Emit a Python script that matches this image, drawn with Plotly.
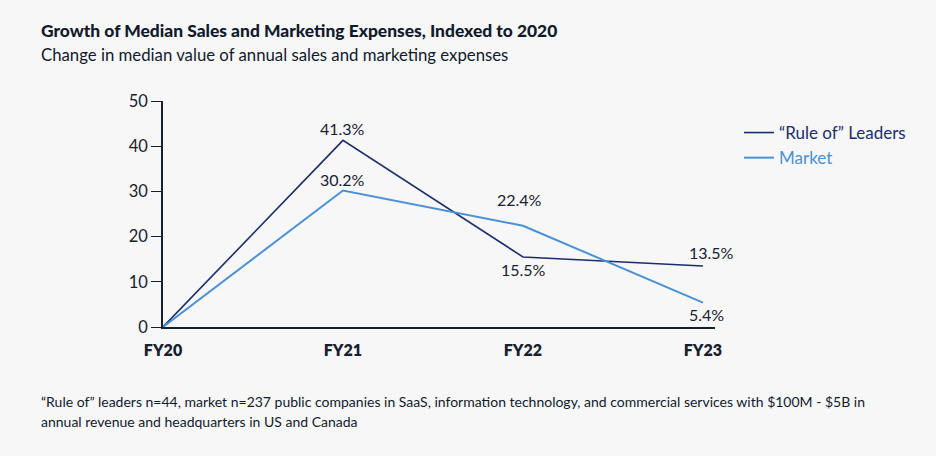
import plotly.graph_objects as go

categories = ["FY20", "FY21", "FY22", "FY23"]
leaders = [0, 41.3, 15.5, 13.5]
market = [0, 30.2, 22.4, 5.4]
leader_labels = [None, "41.3%", "15.5%", "13.5%"]
market_labels = [None, "30.2%", "22.4%", "5.4%"]
y_ticks = [0, 10, 20, 30, 40, 50]

NAVY = "#1b2d6b"
BLUE = "#4b91d3"
INK = "#18202f"
BG = "#f7f7f8"
FONT = "Lato, 'Open Sans', sans-serif"

W, H = 936, 456
L, R, T, B = 163, 221, 101, 129
pw, ph = W - L - R, H - T - B

def px_x(p):
    return (p - L) / pw

def px_y(p):
    return (H - B - p) / ph

xi = list(range(len(categories)))

fig = go.Figure()
fig.add_trace(go.Scatter(
    x=xi, y=leaders, mode="lines", line=dict(color=NAVY, width=1.6),
    name=f'<span style="color:{NAVY}">“Rule of” Leaders</span>'))
fig.add_trace(go.Scatter(
    x=xi, y=market, mode="lines", line=dict(color=BLUE, width=2),
    name=f'<span style="color:{BLUE}">Market</span>'))

# data labels (offsets in pixels)
leader_off = [None, (0, 12), (1, -13), (9, 13)]
market_off = [None, (0, 11), (-3, 26), (4, -12)]
ann = []
for i, (lab, off) in enumerate(zip(leader_labels, leader_off)):
    if lab:
        ann.append(dict(x=xi[i], y=leaders[i], xref="x", yref="y", text=lab, showarrow=False,
                        xshift=off[0], yshift=off[1], font=dict(size=16, color=INK, family=FONT)))
for i, (lab, off) in enumerate(zip(market_labels, market_off)):
    if lab:
        ann.append(dict(x=xi[i], y=market[i], xref="x", yref="y", text=lab, showarrow=False,
                        xshift=off[0], yshift=off[1], font=dict(size=16, color=INK, family=FONT)))

ann.append(dict(x=px_x(39), y=px_y(31), xref="paper", yref="paper", xanchor="left", yanchor="middle",
                text="Growth of Median Sales and Marketing Expenses, Indexed to 2020",
                showarrow=False, font=dict(size=17.4, color="#111a2b", family=FONT, weight=900)))
ann.append(dict(x=px_x(39), y=px_y(55), xref="paper", yref="paper", xanchor="left", yanchor="middle",
                text="Change in median value of annual sales and marketing expenses",
                showarrow=False, font=dict(size=16.75, color="#111a2b", family=FONT)))
ann.append(dict(x=px_x(39), y=px_y(401), xref="paper", yref="paper", xanchor="left", yanchor="middle",
                text="“Rule of” leaders n=44, market n=237 public companies in SaaS, information technology, and commercial services with $100M - $5B in",
                showarrow=False, font=dict(size=14, color="#111a2b", family=FONT)))
ann.append(dict(x=px_x(39), y=px_y(421), xref="paper", yref="paper", xanchor="left", yanchor="middle",
                text="annual revenue and headquarters in US and Canada",
                showarrow=False, font=dict(size=14, color="#111a2b", family=FONT)))

fig.update_layout(
    width=W, height=H,
    margin=dict(l=L, r=R, t=T, b=B),
    paper_bgcolor=BG, plot_bgcolor=BG,
    font=dict(family=FONT, color=INK, size=16),
    showlegend=True,
    legend=dict(x=px_x(739), y=px_y(115), xanchor="left", yanchor="top",
                bgcolor="rgba(0,0,0,0)", font=dict(size=17, family=FONT),
                tracegroupgap=0, itemwidth=30),
    annotations=ann,
    xaxis=dict(range=[0, 3.067], tickvals=xi, ticktext=categories,
               showgrid=False, zeroline=False, showline=True, linecolor=INK, linewidth=1.5,
               ticks="", ticklabelstandoff=8,
               tickfont=dict(size=16, color=INK, family=FONT, weight=800), fixedrange=True),
    yaxis=dict(range=[0, 50], tickvals=y_ticks, showgrid=False, zeroline=False,
               showline=True, linecolor=INK, linewidth=1.5, ticks="outside", ticklen=10,
               tickcolor=INK, tickwidth=1.2, tickfont=dict(size=16.5, color=INK, family=FONT),
               fixedrange=True),
)

fig.write_html("out.html", config={"displayModeBar": False},
               post_script="document.body.style.margin='0';document.body.style.background='#f7f7f8';")
